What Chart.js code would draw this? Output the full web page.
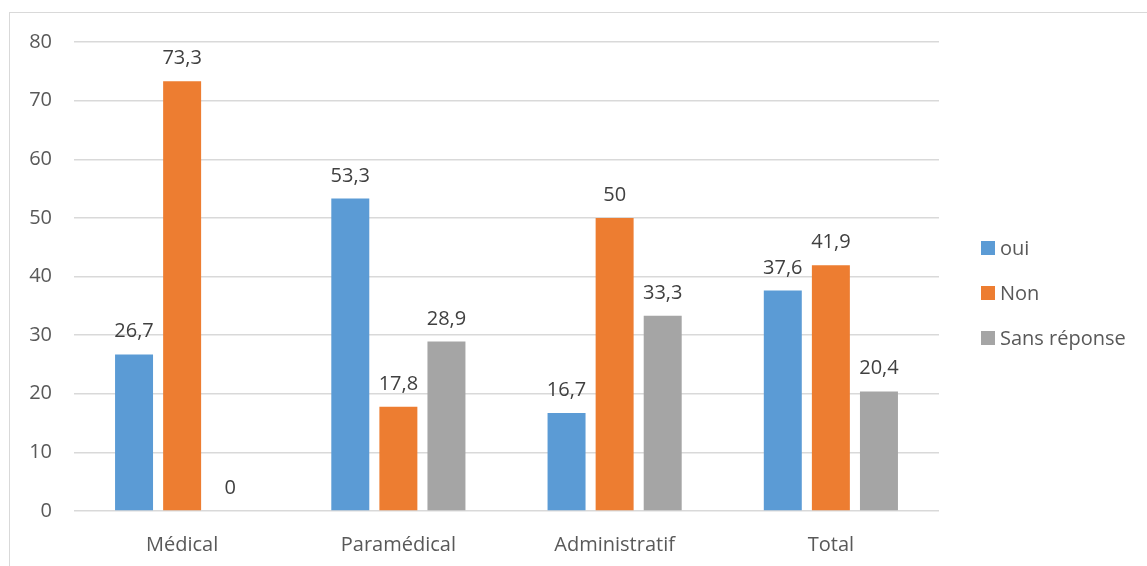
<!DOCTYPE html>
<html>
<head>
<meta charset="utf-8">
<script src="https://cdn.jsdelivr.net/npm/chart.js@4.4.1/dist/chart.umd.min.js"></script>
<style>
  html, body { margin: 0; padding: 0; background: #fff; }
  #wrap { position: relative; width: 1147px; height: 566px; overflow: hidden; }
  #frame { position: absolute; left: 9px; top: 12px; width: 1200px; height: 600px;
           border: 1.5px solid #d9d9d9; box-sizing: border-box; }
  canvas { position: absolute; left: 0; top: 0; }
</style>
</head>
<body>
<div id="wrap">
  <div id="frame"></div>
  <canvas id="c" width="1147" height="566"></canvas>
</div>
<script>
const categories = ['Médical', 'Paramédical', 'Administratif', 'Total'];
const seriesNames = ['oui', 'Non', 'Sans réponse'];
const ouiValues = [26.7, 53.3, 16.7, 37.6];
const nonValues = [73.3, 17.8, 50, 41.9];
const sansReponseValues = [0, 28.9, 33.3, 20.4];
const seriesColors = ['#5B9BD5', '#ED7D31', '#A5A5A5'];
const yTicks = [0, 10, 20, 30, 40, 50, 60, 70, 80];

const FONT = '"Open Sans", "Liberation Sans", sans-serif';
const fmt = v => String(v).replace('.', ',');

// Value labels above each bar
const valueLabels = {
  id: 'valueLabels',
  afterDatasetsDraw(chart) {
    const ctx = chart.ctx;
    ctx.save();
    ctx.font = '20px ' + FONT;
    ctx.fillStyle = '#404040';
    ctx.textAlign = 'center';
    ctx.textBaseline = 'alphabetic';
    chart.data.datasets.forEach((ds, i) => {
      chart.getDatasetMeta(i).data.forEach((bar, j) => {
        ctx.fillText(fmt(ds.data[j]), bar.x, bar.y - 17);
      });
    });
    ctx.restore();
  }
};

// Legend stacked vertically on the right
const sideLegend = {
  id: 'sideLegend',
  afterDraw(chart) {
    const ctx = chart.ctx;
    const x0 = 981, yStart = 248, step = 45, box = 14;
    ctx.save();
    ctx.font = '20px ' + FONT;
    ctx.textBaseline = 'middle';
    ctx.textAlign = 'left';
    chart.data.datasets.forEach((ds, i) => {
      const yc = yStart + i * step;
      ctx.fillStyle = ds.backgroundColor;
      ctx.fillRect(x0, yc - box / 2, box, box);
      ctx.fillStyle = '#595959';
      ctx.fillText(ds.label, x0 + 19, yc + 1);
    });
    ctx.restore();
  }
};

new Chart(document.getElementById('c'), {
  type: 'bar',
  data: {
    labels: categories,
    datasets: [
      { label: seriesNames[0], data: ouiValues, backgroundColor: seriesColors[0] },
      { label: seriesNames[1], data: nonValues, backgroundColor: seriesColors[1] },
      { label: seriesNames[2], data: sansReponseValues, backgroundColor: seriesColors[2] }
    ]
  },
  options: {
    responsive: false,
    animation: false,
    events: [],
    categoryPercentage: 0.667,
    barPercentage: 0.79,
    layout: { padding: { top: 42, right: 208, left: 0, bottom: 0 } },
    plugins: { legend: { display: false }, tooltip: { enabled: false } },
    scales: {
      x: {
        grid: { display: false },
        border: { display: false },
        ticks: { color: '#595959', font: { family: FONT, size: 20 }, padding: 14 },
        afterFit(scale) { scale.height = 55; }
      },
      y: {
        min: 0, max: 80,
        afterBuildTicks(scale) { scale.ticks = yTicks.map(v => ({ value: v })); },
        grid: { color: '#D9D9D9', lineWidth: 1.5, drawTicks: false },
        border: { display: false },
        ticks: { color: '#595959', font: { family: FONT, size: 20 }, padding: 22 },
        afterFit(scale) { scale.width = 74; }
      }
    }
  },
  plugins: [valueLabels, sideLegend]
});
</script>
</body>
</html>
